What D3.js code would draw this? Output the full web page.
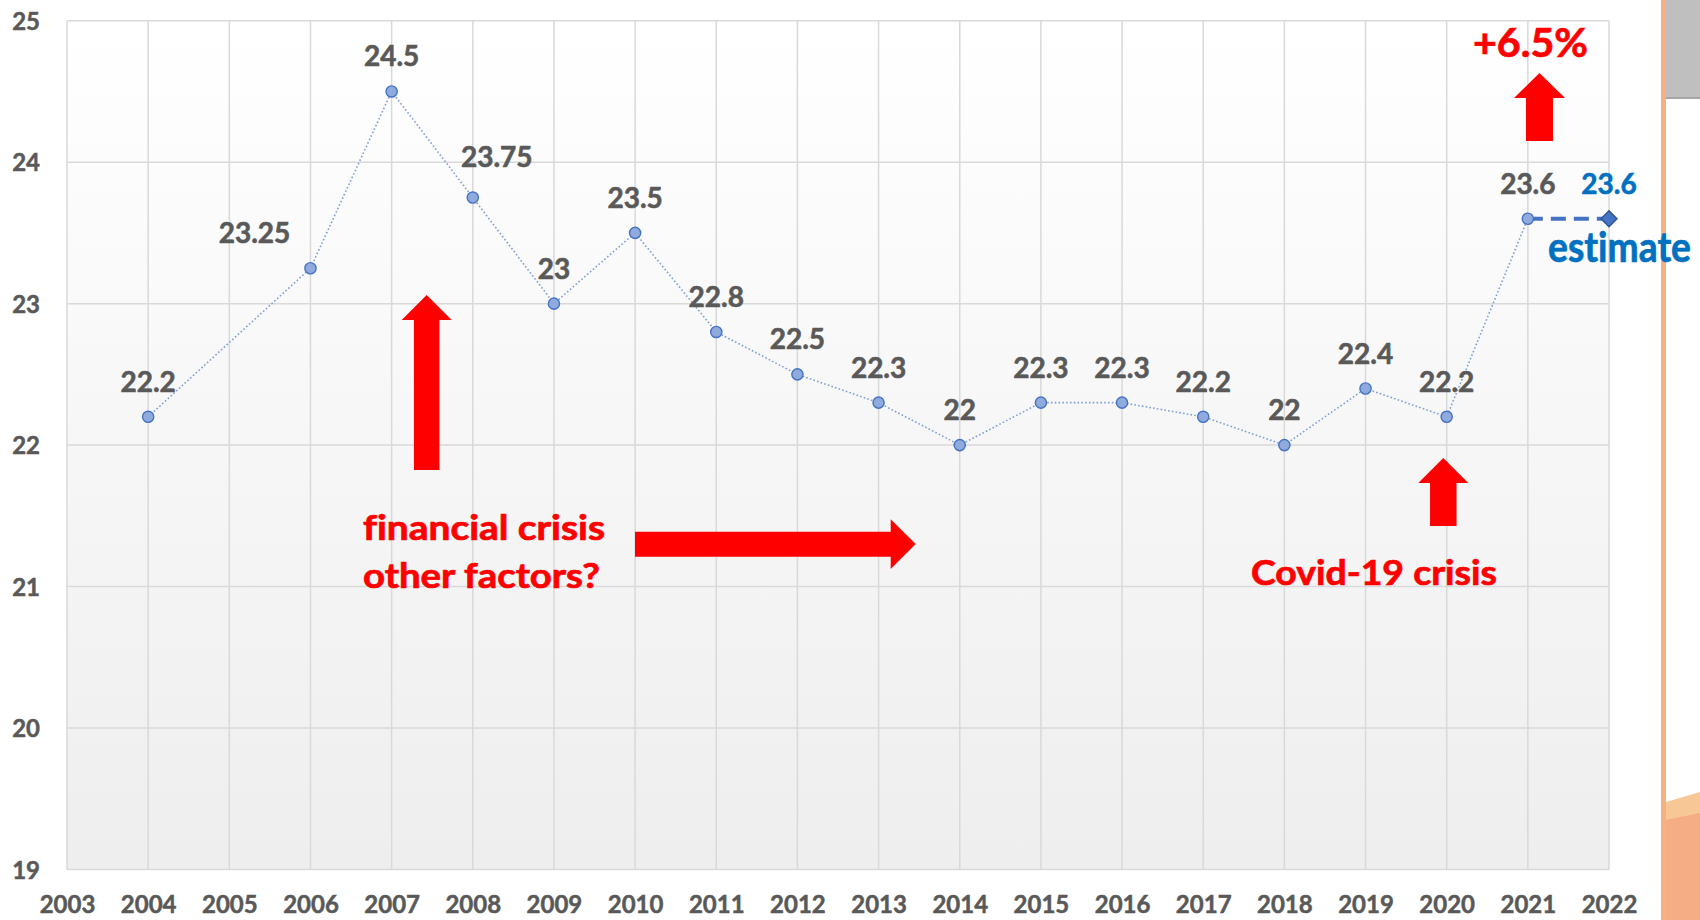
<!DOCTYPE html>
<html>
<head>
<meta charset="utf-8">
<script src="https://cdn.jsdelivr.net/npm/d3@7"></script>
<style>
  body { margin: 0; background: #fff; }
  svg { display: block; }
  text { font-family: Lato, "Open Sans", sans-serif; font-weight: bold; font-variant-ligatures: none; }
</style>
</head>
<body>
<div id="chart"></div>
<script>
// observed values (2005 is missing in the source)
var years  = [2004, 2006, 2007, 2008, 2009, 2010, 2011, 2012, 2013, 2014, 2015, 2016, 2017, 2018, 2019, 2020, 2021];
var values = [22.2, 23.25, 24.5, 23.75, 23, 23.5, 22.8, 22.5, 22.3, 22, 22.3, 22.3, 22.2, 22, 22.4, 22.2, 23.6];
// estimate
var estYears  = [2021, 2022];
var estValues = [23.6, 23.6];
// tick labels
var xTicks = d3.range(2003, 2023);
var yTicks = [19, 20, 21, 22, 23, 24, 25];

var width = 1700, height = 920;
var plot = {left: 67, right: 1609, top: 20.7, bottom: 869.5};

// label nudges [dx, dy] in px where Excel pushed the label aside
var labelShift = {2006: [-56, 0], 2008: [24, -6]};

var svg = d3.select("#chart").append("svg")
    .attr("width", width)
    .attr("height", height);

var x = d3.scaleLinear().domain([2003, 2022]).range([plot.left, plot.right]);
var y = d3.scaleLinear().domain([19, 25]).range([plot.bottom, plot.top]);

var defs = svg.append("defs");
var grad = defs.append("linearGradient")
    .attr("id", "bgGrad")
    .attr("x1", 0).attr("y1", 0).attr("x2", 0).attr("y2", 1);
grad.append("stop").attr("offset", "0%").attr("stop-color", "#ffffff");
grad.append("stop").attr("offset", "100%").attr("stop-color", "#eeeeee");

// right-hand slide remnants
var deco = svg.append("g").attr("class", "deco");
deco.append("rect").attr("x", 1666).attr("y", 0).attr("width", 34).attr("height", 97).attr("fill", "#bfbfbf");
deco.append("rect").attr("x", 1666).attr("y", 97).attr("width", 34).attr("height", 2).attr("fill", "#a6a6a6");
deco.append("polygon").attr("points", "1666,802 1700,792 1700,814 1666,821").attr("fill", "#f8c796");
deco.append("polygon").attr("points", "1666,820 1700,813 1700,920 1666,920").attr("fill", "#f4ad85");
deco.append("rect").attr("x", 1661).attr("y", 0).attr("width", 5).attr("height", height).attr("fill", "#f4b183");

// plot background
svg.append("rect")
    .attr("x", plot.left).attr("y", plot.top)
    .attr("width", plot.right - plot.left)
    .attr("height", plot.bottom - plot.top)
    .attr("fill", "url(#bgGrad)");

// grid
var grid = svg.append("g").attr("class", "grid")
    .attr("stroke", "#d9d9d9").attr("stroke-width", 1.5);
grid.selectAll("line.v").data(xTicks).enter().append("line")
    .attr("class", "v")
    .attr("x1", function(d) { return x(d); })
    .attr("x2", function(d) { return x(d); })
    .attr("y1", plot.top).attr("y2", plot.bottom);
grid.selectAll("line.h").data(yTicks).enter().append("line")
    .attr("class", "h")
    .attr("x1", plot.left).attr("x2", plot.right)
    .attr("y1", function(d) { return y(d); })
    .attr("y2", function(d) { return y(d); });

// axes (labels only)
var xAxis = svg.append("g")
    .attr("transform", "translate(0," + plot.bottom + ")")
    .call(d3.axisBottom(x).tickValues(xTicks).tickFormat(d3.format("d")).tickSize(0).tickPadding(33));
var yAxis = svg.append("g")
    .attr("transform", "translate(" + plot.left + ",0)")
    .call(d3.axisLeft(y).tickValues(yTicks).tickFormat(d3.format("d")).tickSize(0).tickPadding(27));
[xAxis, yAxis].forEach(function(a) {
    a.select(".domain").remove();
    a.selectAll("text")
        .attr("fill", "#595959")
        .attr("stroke", "#595959")
        .attr("stroke-width", 0.5)
        .style("font-size", "24px")
        .style("font-family", "Lato, sans-serif")
        .style("font-weight", "bold");
});
xAxis.selectAll("text").attr("dy", 0).attr("y", 43.5);
yAxis.selectAll("text").attr("dy", "0.36em");

// series
var pts = years.map(function(d, i) { return {year: d, value: values[i]}; });
var line = d3.line()
    .x(function(d) { return x(d.year); })
    .y(function(d) { return y(d.value); });

svg.append("path")
    .datum(pts)
    .attr("d", line)
    .attr("fill", "none")
    .attr("stroke", "#7f9fd8")
    .attr("stroke-width", 1.6)
    .attr("stroke-dasharray", "1.6 2.2");

var est = estYears.map(function(d, i) { return {year: d, value: estValues[i]}; });
svg.append("path")
    .datum(est)
    .attr("d", line)
    .attr("fill", "none")
    .attr("stroke", "#4472c4")
    .attr("stroke-width", 4)
    .attr("stroke-dasharray", "15 8");

svg.selectAll("circle.pt").data(pts).enter().append("circle")
    .attr("class", "pt")
    .attr("cx", function(d) { return x(d.year); })
    .attr("cy", function(d) { return y(d.value); })
    .attr("r", 5.6)
    .attr("fill", "#8faadc")
    .attr("stroke", "#4472c4")
    .attr("stroke-width", 1.4);

svg.append("path")
    .datum(est[1])
    .attr("d", d3.symbol().type(d3.symbolDiamond2).size(160))
    .attr("transform", function(d) { return "translate(" + x(d.year) + "," + y(d.value) + ")"; })
    .attr("fill", "#4472c4")
    .attr("stroke", "#2f5597")
    .attr("stroke-width", 1.5);

// data labels
function shift(d, k) { return labelShift[d.year] ? labelShift[d.year][k] : 0; }
svg.selectAll("text.lbl").data(pts).enter().append("text")
    .attr("class", "lbl")
    .attr("x", function(d) { return x(d.year) + shift(d, 0); })
    .attr("y", function(d) { return y(d.value) - 25 + shift(d, 1); })
    .attr("text-anchor", "middle")
    .attr("fill", "#595959")
    .attr("stroke", "#595959")
    .attr("stroke-width", 0.6)
    .style("font-size", "28px")
    .text(function(d) { return d.value; });

svg.append("text")
    .datum(est[1])
    .attr("x", function(d) { return x(d.year); })
    .attr("y", function(d) { return y(d.value) - 25; })
    .attr("text-anchor", "middle")
    .attr("fill", "#0070c0")
    .attr("stroke", "#0070c0")
    .attr("stroke-width", 0.6)
    .style("font-size", "28px")
    .text(function(d) { return d.value; });

// annotations
function upArrow(cx, top, bottom, headW, shaftW, headH) {
    var p = [[cx, top], [cx + headW / 2, top + headH], [cx + shaftW / 2, top + headH],
             [cx + shaftW / 2, bottom], [cx - shaftW / 2, bottom], [cx - shaftW / 2, top + headH],
             [cx - headW / 2, top + headH]];
    svg.append("polygon").attr("points", p.join(" ")).attr("fill", "#ff0000");
}
upArrow(426.7, 295, 470, 50, 25.5, 25);
upArrow(1443.3, 458, 526, 50, 26.5, 25);
upArrow(1539.5, 73, 141, 51, 27, 25);

svg.append("polygon")
    .attr("points", [[635, 531.7], [890.7, 531.7], [890.7, 519.3], [915.7, 544],
                     [890.7, 569], [890.7, 556.7], [635, 556.7]].join(" "))
    .attr("fill", "#ff0000");

var notes = svg.append("g").attr("fill", "#ff0000").attr("stroke", "#ff0000").attr("stroke-width", 0.7);
notes.append("text").attr("x", 363).attr("y", 540).style("font-size", "34px")
    .attr("textLength", 242).attr("lengthAdjust", "spacingAndGlyphs").text("financial crisis");
notes.append("text").attr("x", 363).attr("y", 588).style("font-size", "34px")
    .attr("textLength", 237).attr("lengthAdjust", "spacingAndGlyphs").text("other factors?");
notes.append("text").attr("x", 1251).attr("y", 585).style("font-size", "35px")
    .attr("textLength", 246).attr("lengthAdjust", "spacingAndGlyphs").text("Covid-19 crisis");
notes.append("text").attr("x", 1473).attr("y", 57).style("font-size", "41px")
    .attr("textLength", 115).attr("lengthAdjust", "spacingAndGlyphs").text("+6.5%");

svg.append("text")
    .attr("x", 1548).attr("y", 262)
    .attr("fill", "#0070c0")
    .attr("stroke", "#0070c0")
    .attr("stroke-width", 0.7)
    .style("font-size", "42px")
    .attr("textLength", 143)
    .attr("lengthAdjust", "spacingAndGlyphs")
    .text("estimate");
</script>
</body>
</html>
